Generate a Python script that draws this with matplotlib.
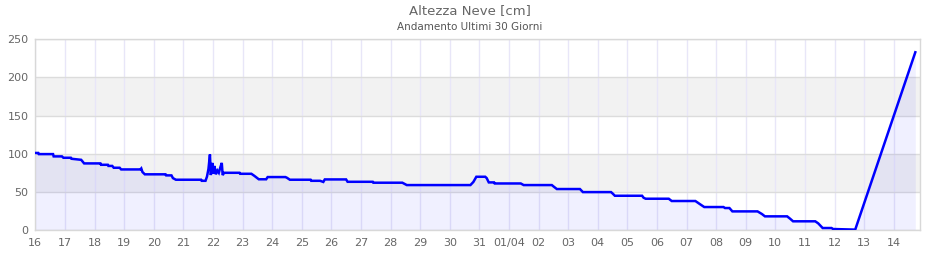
import matplotlib
matplotlib.use("Agg")
import matplotlib.pyplot as plt

# Day offsets from 16/03 00:00 and snow depth (cm)
days = [0.00, 0.10, 0.12, 0.60, 0.62, 0.90, 0.95, 1.20, 1.22, 1.55, 1.65, 2.20, 2.22, 2.45, 2.47, 2.60,
        2.65, 2.85, 2.90, 3.55, 3.58, 3.62, 3.70, 4.40, 4.42, 4.60, 4.65, 4.75, 5.60, 5.62, 5.75,
        5.80, 5.85, 5.90, 5.93, 5.98, 6.02, 6.05, 6.10, 6.15, 6.20, 6.25, 6.30, 6.33, 6.38, 6.90,
        6.92, 7.30, 7.40, 7.55, 7.80, 7.85, 8.45, 8.50, 8.60, 9.30, 9.32, 9.62, 9.73, 9.78, 10.50,
        10.55, 11.40, 11.42, 12.40, 12.55, 14.70, 14.80, 14.90, 15.20, 15.25, 15.32, 15.50, 15.52,
        16.40, 16.50, 17.45, 17.52, 17.62, 18.40, 18.50, 19.45, 19.50, 19.58, 20.50, 20.55, 20.62,
        21.40, 21.50, 22.30, 22.45, 22.60, 23.25, 23.30, 23.45, 23.55, 24.40, 24.55, 24.65, 25.40,
        25.50, 25.60, 26.35, 26.45, 26.60, 26.90, 26.95, 27.70, 29.73]
snow = [101, 101, 99.5, 99.5, 96.5, 96.5, 94.7, 94.7, 93.4, 92.0, 87.3, 87.3, 85.5, 85.5, 84.0, 84.0,
        81.6, 81.6, 79.4, 79.4, 80.7, 76, 73, 73, 71.6, 71.6, 68, 65.9, 65.9, 64.5, 64.5,
        70, 80, 99, 72, 88, 74, 84, 73, 78, 75, 82, 88, 72, 75, 75,
        73.7, 73.7, 71, 66.5, 66.5, 69.4, 69.4, 68.5, 65.9, 65.9, 64.5, 64.5, 63, 66.3, 66.3,
        63.2, 63.2, 62, 62, 58.9, 58.9, 63, 69.8, 69.8, 68, 62.4, 62.4, 61,
        61, 58.9, 58.9, 56.7, 53.7, 53.7, 49.7, 49.7, 48, 44.9, 44.9, 42.3, 41,
        41, 38, 38, 34, 30.1, 30.1, 28.8, 28.8, 24.4, 24.4, 20.9, 17.9, 17.9,
        14.8, 11.4, 11.4, 8.7, 2.6, 2.6, 1.3, 0.5, 233]

tick_labels = ["16", "17", "18", "19", "20", "21", "22", "23", "24", "25", "26", "27", "28", "29",
               "30", "31", "01/04", "02", "03", "04", "05", "06", "07", "08", "09", "10", "11",
               "12", "13", "14"]
y_ticks = [0, 50, 100, 150, 200, 250]

fig = plt.figure(figsize=(9.4, 2.6), dpi=100)
ax = fig.add_axes([35.3 / 940, 1 - 230 / 260, (920 - 35.3) / 940, (230 - 39.3) / 260])

ax.set_xlim(0, (920 - 35.3) / 29.6)
ax.set_ylim(0, 250)

# alternating bands
for lo in (50, 150):
    ax.axhspan(lo, lo + 50, color="#f2f2f2", zorder=0, lw=0)

ax.set_xticks(range(len(tick_labels)))
ax.set_xticklabels(tick_labels)
ax.set_yticks(y_ticks)
ax.grid(axis="x", color="#e8e6f8", lw=1, zorder=1)
ax.grid(axis="y", color="#dcdcdc", lw=1, zorder=1)
ax.set_axisbelow(True)

ax.fill_between(days, snow, 0, color="#0000ff", alpha=0.06, lw=0, zorder=2)
ax.plot(days, snow, color="#0000ff", lw=1.8, zorder=3, solid_joinstyle="miter")

for s in ax.spines.values():
    s.set_color("#d8d8d8")
    s.set_linewidth(1)

ax.tick_params(length=0, labelsize=8, colors="#666666", pad=5)
ax.tick_params(axis="x", pad=6)

fig.text(0.5, 1 - 11 / 260, "Altezza Neve [cm]", ha="center", va="center", fontsize=9.5, color="#666666")
fig.text(0.5, 1 - 27 / 260, "Andamento Ultimi 30 Giorni", ha="center", va="center", fontsize=7.5, color="#555555")

fig.savefig("out.png", dpi=100)
